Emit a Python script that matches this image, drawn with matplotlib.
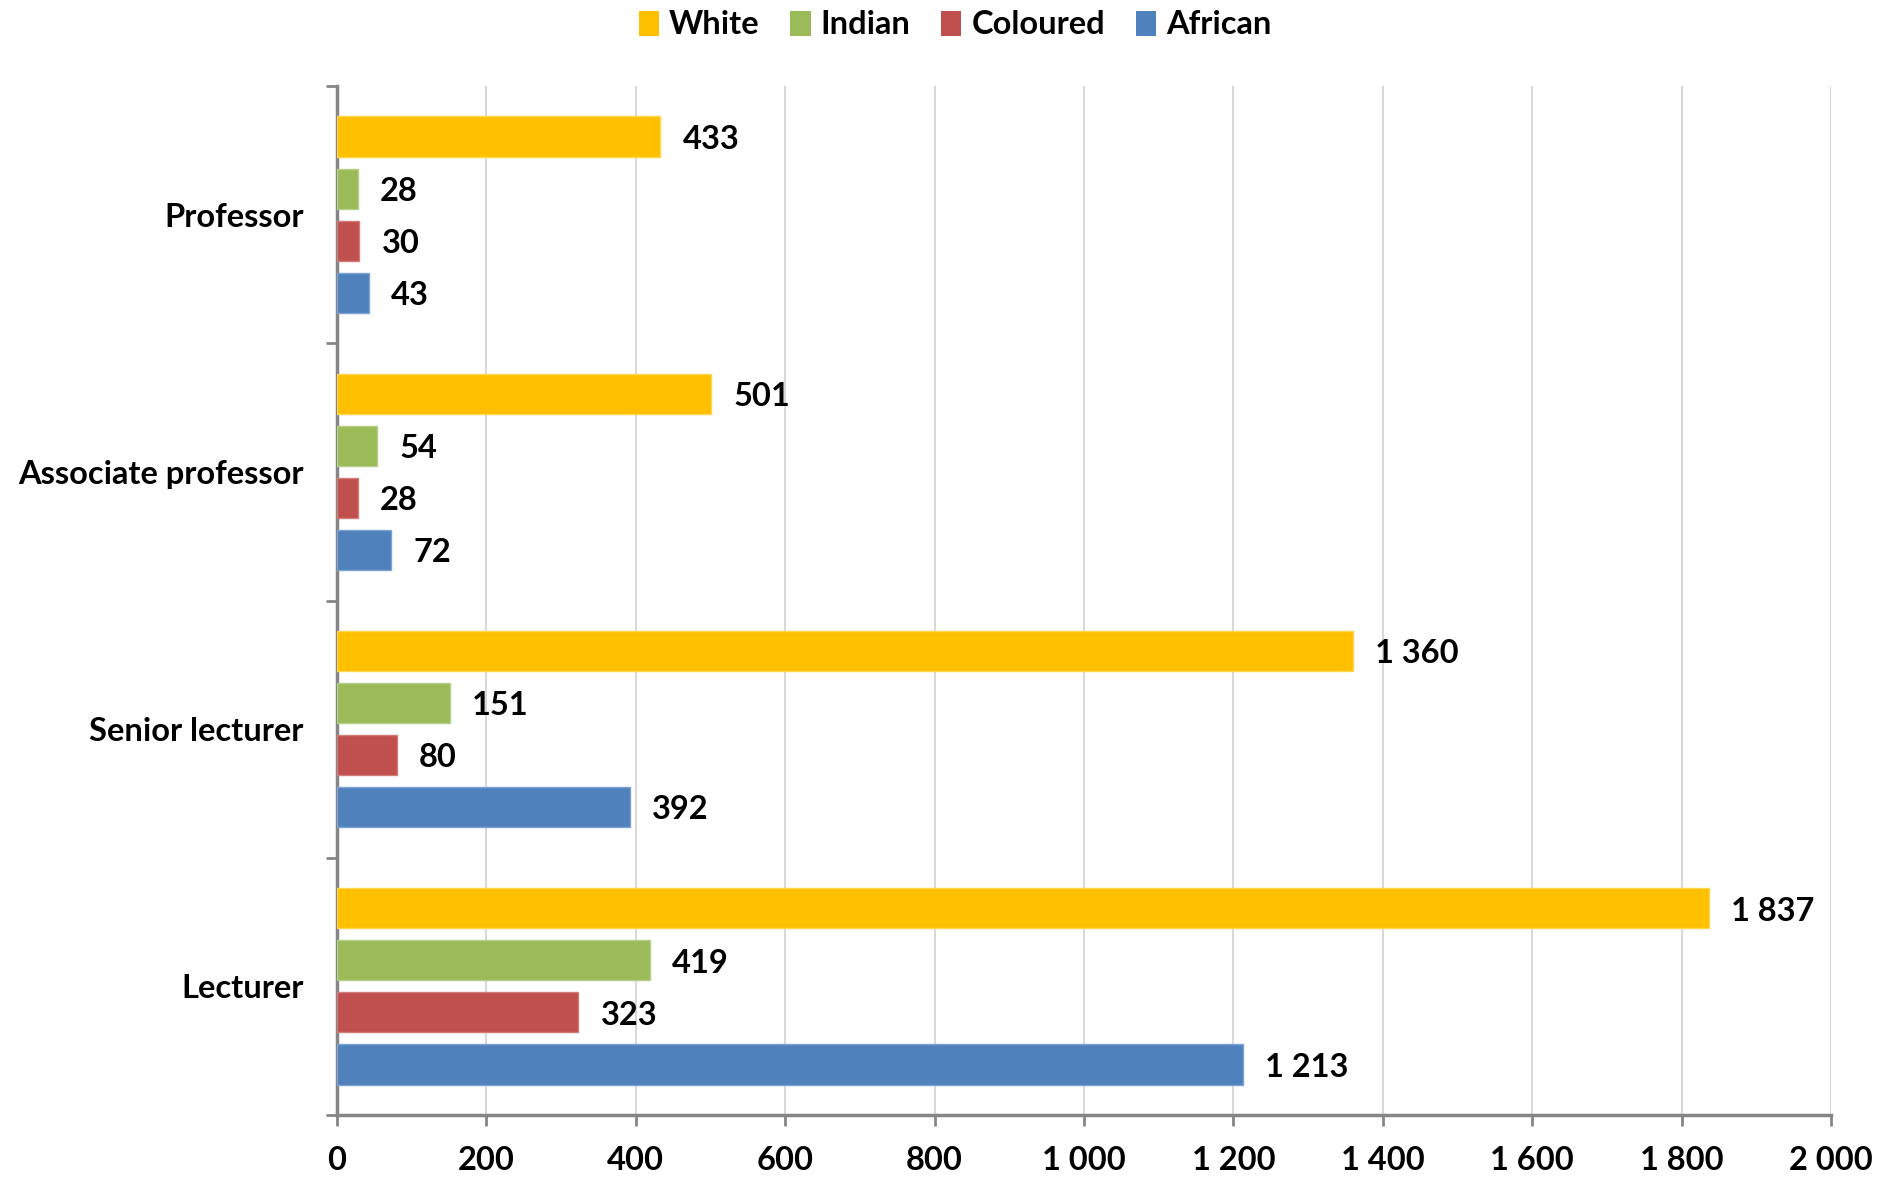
import matplotlib
matplotlib.use("Agg")
import matplotlib.pyplot as plt
from matplotlib.patches import Patch
from matplotlib.ticker import FuncFormatter, FixedLocator

plt.rcParams['font.family'] = ['Lato', 'DejaVu Sans']
plt.rcParams['font.weight'] = 'bold'

categories = ["Professor", "Associate professor", "Senior lecturer", "Lecturer"]
series_names = ["White", "Indian", "Coloured", "African"]
white = [433, 501, 1360, 1837]
indian = [28, 54, 151, 419]
coloured = [30, 28, 80, 323]
african = [43, 72, 392, 1213]
colors = ["#FFC000", "#9BBB59", "#C0504D", "#4F81BD"]
edge_colors = ["#FFD54F", "#B5CF85", "#D07C79", "#7FA3D0"]
x_ticks = [0, 200, 400, 600, 800, 1000, 1200, 1400, 1600, 1800, 2000]

series = [white, indian, coloured, african]
FS = 23.5

fig = plt.figure(figsize=(18.92, 11.77), dpi=100)
ax = fig.add_axes([337/1892, 1 - 1115/1177, (1831-337)/1892, (1115-86)/1177])

pitch = 0.2023
height = 0.156
centers = [i + 0.5 for i in range(len(categories))]
for k, (vals, c, ec) in enumerate(zip(series, colors, edge_colors)):
    ys = [cy + (k - 1.5) * pitch for cy in centers]
    ax.barh(ys, vals, height=height, color=c, edgecolor=ec, linewidth=1.0, zorder=3)
    for y, v in zip(ys, vals):
        txt = f"{v:,}".replace(",", " ")
        ax.annotate(txt, (v, y), xytext=(16, -2), textcoords="offset points",
                    ha="left", va="center", fontsize=FS, fontweight="bold", color="black")

ax.set_xlim(0, 2000)
ax.set_ylim(len(categories), 0)
ax.xaxis.set_major_locator(FixedLocator(x_ticks))
ax.xaxis.set_major_formatter(FuncFormatter(lambda v, p: f"{int(v):,}".replace(",", " ")))
ax.set_yticks(range(len(categories) + 1))
ax.set_yticklabels([])
ax.set_yticks(centers, minor=True)
ax.set_yticklabels(categories, minor=True)
ax.tick_params(axis="y", which="minor", length=0, pad=24, labelsize=FS)
ax.tick_params(axis="y", which="major", length=8, width=2, color="#868686")
ax.tick_params(axis="x", which="major", length=8, width=2, color="#868686", pad=14, labelsize=FS)
for lab in ax.get_xticklabels() + ax.get_yticklabels(minor=True):
    lab.set_fontweight("bold")

ax.grid(axis="x", color="#D9D9D9", linewidth=1.5, zorder=0)
ax.set_axisbelow(True)
for s in ["top", "right"]:
    ax.spines[s].set_visible(False)
for s in ["left", "bottom"]:
    ax.spines[s].set_color("#868686")
    ax.spines[s].set_linewidth(2.5)

handles = [Patch(facecolor=c, edgecolor="none", label=n) for n, c in zip(series_names, colors)]
fig.legend(handles=handles, loc="center", bbox_to_anchor=(955/1892, 1 - 25/1177), ncol=4,
           frameon=False, handlelength=0.62, handleheight=0.8,
           handletextpad=0.3, columnspacing=0.95, prop={"weight": "bold", "size": FS})

fig.savefig("out.png", dpi=100)
